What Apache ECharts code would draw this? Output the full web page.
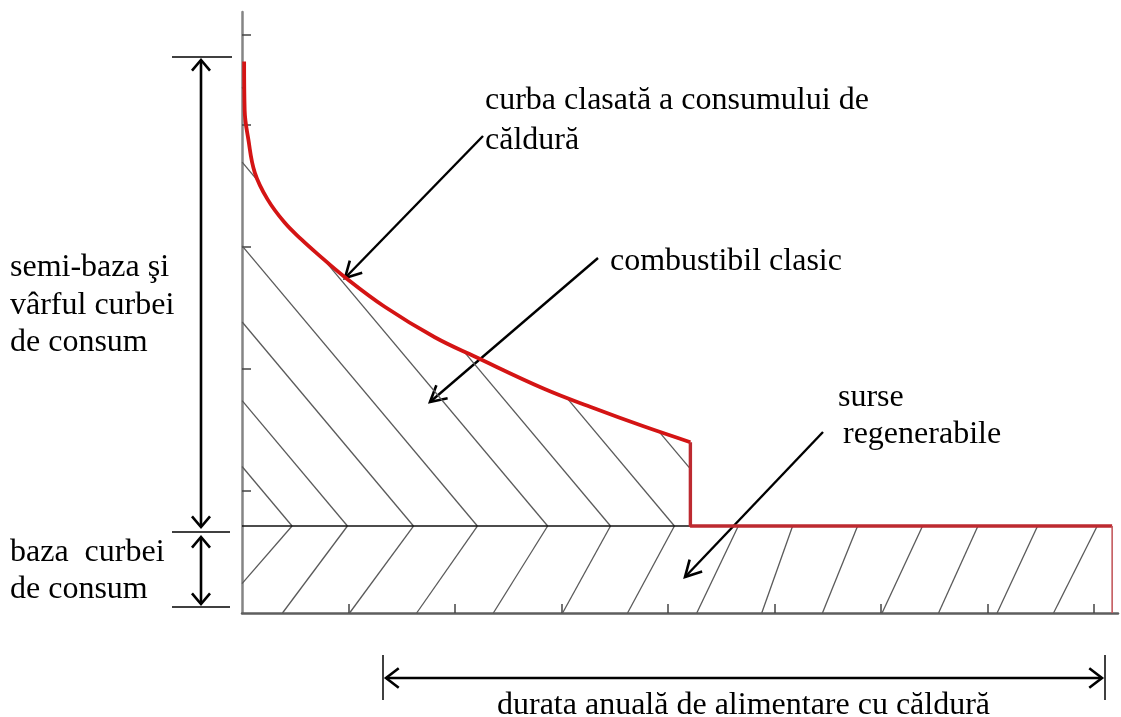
<!DOCTYPE html>
<html>
<head>
<meta charset="utf-8">
<script src="https://cdn.jsdelivr.net/npm/echarts@6/dist/echarts.min.js"></script>
<style>
  html, body { margin: 0; padding: 0; background: #fff; }
  #chart { width: 1121px; height: 717px; }
</style>
</head>
<body>
<div id="chart"></div>
<script>
// load duration curve, x in time ticks, y in load ticks
var loadX = [0.02, 0.025, 0.06, 0.12, 0.24, 0.40, 0.56, 0.70, 0.97, 1.34, 1.81, 2.19, 2.83, 3.30, 3.77, 4.21];
var loadY = [4.52, 4.12, 3.88, 3.61, 3.39, 3.20, 3.06, 2.95, 2.75, 2.51, 2.26, 2.10, 1.84, 1.68, 1.53, 1.40];
var baseLoad = 0.713;
var yearEnd = 8.17;
var xTickValues = [1, 2, 3, 4, 5, 6, 7, 8];
var yTickValues = [1, 2, 3, 4, 4.74];
// hatching: where each chevron meets the base line, and where the lower stroke hits the x axis
var hatchBaseX = [0.47, 0.99, 1.61, 2.21, 2.87, 3.46, 4.06, 4.66, 5.17, 5.78, 6.39, 6.91, 7.47, 8.03];
var hatchFootX = [-0.24, 0.38, 1.01, 1.64, 2.36, 3.01, 3.62, 4.27, 4.88, 5.45, 6.01, 6.54, 7.09, 7.62];

document.addEventListener('DOMContentLoaded', function () {
  var chart = echarts.init(document.getElementById('chart'));
  var stepX = loadX[loadX.length - 1];
  var upSlope = 0.962;

  function curveAt(x) {
    if (x <= loadX[0]) return loadY[0];
    for (var i = 1; i < loadX.length; i++) {
      if (loadX[i] > loadX[i - 1] && x <= loadX[i]) {
        var t = (x - loadX[i - 1]) / (loadX[i] - loadX[i - 1]);
        return loadY[i - 1] + t * (loadY[i] - loadY[i - 1]);
      }
    }
    return -Infinity;
  }

  var hatch = [];
  // upper strokes, kept under the curve
  hatchBaseX.forEach(function (b) {
    var run = null;
    for (var y = baseLoad; y <= 5; y += 0.002) {
      var x = b - upSlope * (y - baseLoad);
      var inside = x >= 0 && x <= stepX && y <= curveAt(x);
      if (inside) {
        if (!run) run = [[x, y], [x, y]];
        else run[1] = [x, y];
      } else if (run) {
        hatch.push(run);
        run = null;
      }
    }
    if (run) hatch.push(run);
  });
  // lower strokes
  hatchBaseX.forEach(function (b, i) {
    var top = [b, baseLoad];
    var foot = [hatchFootX[i], 0];
    if (foot[0] < 0) {
      var t = (0 - top[0]) / (foot[0] - top[0]);
      foot = [0, baseLoad * (1 - t)];
    }
    hatch.push([top, foot]);
  });

  var curveData = loadX.map(function (x, i) { return [x, loadY[i]]; });

  function head(tx, ty, fx, fy, len, spread) {
    var a = Math.atan2(fy - ty, fx - tx);
    return {
      type: 'polyline',
      shape: { points: [
        [tx + len * Math.cos(a + spread), ty + len * Math.sin(a + spread)],
        [tx, ty],
        [tx + len * Math.cos(a - spread), ty + len * Math.sin(a - spread)]
      ] },
      style: { stroke: '#000', lineWidth: 2.6, fill: null }
    };
  }
  function seg(x1, y1, x2, y2, w) {
    return { type: 'line', shape: { x1: x1, y1: y1, x2: x2, y2: y2 }, style: { stroke: '#000', lineWidth: w || 2 } };
  }
  function arrow(x1, y1, x2, y2) {
    return [seg(x1, y1, x2, y2, 2.4), head(x2, y2, x1, y1, 18, 0.5)];
  }
  function dblArrow(x1, y1, x2, y2, len, spread) {
    return [seg(x1, y1, x2, y2, 2.6), head(x1, y1, x2, y2, len, spread), head(x2, y2, x1, y1, len, spread)];
  }
  function label(text, x, y) {
    return {
      type: 'text', x: x, y: y,
      style: { text: text, fill: '#000', font: '32px "Liberation Serif", "Times New Roman", serif', verticalAlign: 'middle', textVerticalAlign: 'middle' }
    };
  }

  var graphics = []
    .concat([seg(172, 57, 232, 57, 1.5), seg(172, 532, 230, 532, 1.5), seg(172, 607, 230, 607, 1.5)])
    .concat(dblArrow(201, 60, 201, 527, 14, 0.7))
    .concat(dblArrow(201, 537, 201, 604, 14, 0.7))
    .concat([seg(383, 655, 383, 700, 1.5), seg(1105, 655, 1105, 700, 1.5)])
    .concat(dblArrow(386, 678, 1102, 678, 16, 0.65))
    .concat(arrow(483, 136, 345, 278))
    .concat(arrow(598, 258, 430, 402))
    .concat(arrow(823, 432, 685, 577))
    .concat([
      label('curba clasată a consumului de', 485, 101),
      label('căldură', 485, 141),
      label('combustibil clasic', 610, 262),
      label('surse', 838, 398),
      label('regenerabile', 843, 435),
      label('semi-baza şi', 10, 268),
      label('vârful curbei', 10, 306),
      label('de consum', 10, 343),
      label('baza  curbei', 10, 553),
      label('de consum', 10, 590),
      label('durata anuală de alimentare cu căldură', 497, 706)
    ]);

  var option = {
    animation: false,
    grid: { left: 242, right: 3, top: 12, bottom: 104 },
    xAxis: {
      type: 'value', min: 0, max: 8.225, interval: 1,
      axisLine: { show: true, onZero: false, lineStyle: { color: '#5e5e5e', width: 2.5 } },
      axisTick: { show: true, inside: true, length: 9, customValues: xTickValues, lineStyle: { color: '#444', width: 1.5 } },
      axisLabel: { show: false },
      splitLine: { show: false }
    },
    yAxis: {
      type: 'value', min: 0, max: 4.926,
      axisLine: { show: true, onZero: false, lineStyle: { color: '#858585', width: 2.5 } },
      axisTick: { show: true, inside: true, length: 9, customValues: yTickValues, lineStyle: { color: '#444', width: 1.5 } },
      axisLabel: { show: false },
      splitLine: { show: false }
    },
    series: [
      {
        type: 'lines', coordinateSystem: 'cartesian2d', silent: true, z: 2,
        lineStyle: { color: '#5a5a5a', width: 1.3, opacity: 1 },
        data: hatch.map(function (s) { return { coords: s }; })
      },
      {
        type: 'line', symbol: 'none', silent: true, z: 3,
        lineStyle: { color: '#111', width: 1.3 },
        data: [[0, baseLoad], [stepX, baseLoad]]
      },
      {
        type: 'line', symbol: 'none', silent: true, z: 5, smooth: 0.4,
        lineStyle: { color: '#d41414', width: 3.8 },
        data: curveData
      },
      {
        type: 'line', symbol: 'none', silent: true, z: 5,
        lineStyle: { color: '#bd2a30', width: 3.4 },
        data: [[stepX, loadY[loadY.length - 1]], [stepX, baseLoad], [yearEnd, baseLoad]]
      },
      {
        type: 'line', symbol: 'none', silent: true, z: 5,
        lineStyle: { color: '#c45a5e', width: 1.6 },
        data: [[yearEnd, baseLoad], [yearEnd, 0]]
      }
    ],
    graphic: graphics
  };
  chart.setOption(option);
});
</script>
</body>
</html>
